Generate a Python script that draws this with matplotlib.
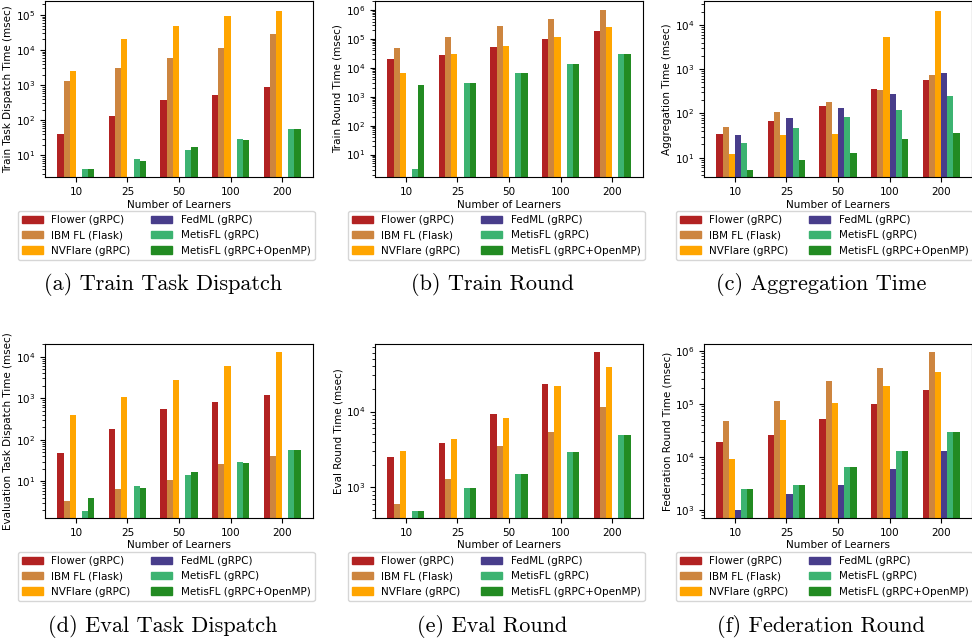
import numpy as np
import matplotlib
matplotlib.use('Agg')
import matplotlib.pyplot as plt
from matplotlib.patches import Patch

learners = ['10', '25', '50', '100', '200']
systems = ['Flower (gRPC)', 'IBM FL (Flask)', 'NVFlare (gRPC)', 'FedML (gRPC)',
           'MetisFL (gRPC)', 'MetisFL (gRPC+OpenMP)']
colors = ['#b22222', '#cd853f', '#ffa500', '#483d8b', '#3cb371', '#228b22']

# one list per system, values in msec; None = not measured
train_dispatch = [
    [40, 130, 370, 520, 880],
    [1300, 3060, 5900, 11400, 28600],
    [2500, 20600, 48500, 93600, 130000],
    [None] * 5,
    [4.0, 7.7, 13.9, 28.6, 55],
    [4.0, 6.7, 17, 27, 55],
]
train_round = [
    [20100, 27600, 52300, 100000, 187000],
    [48300, 116000, 279000, 488000, 1000000],
    [6580, 29900, 56600, 116000, 258000],
    [None] * 5,
    [3.1, 2960, 6580, 13500, 29900],
    [2520, 2960, 6580, 13500, 29900],
]
aggregation = [
    [34.8, 68, 149, 360, 574],
    [50, 109, 183, 342, 745],
    [12.3, 33, 34.8, 5360, 20700],
    [33, 80, 134, 278, 826],
    [21.8, 47.5, 84, 121, 250],
    [5.4, 9.0, 13, 26.8, 36.6],
]
eval_dispatch = [
    [48.8, 184, 555, 817, 1200],
    [3.4, 6.7, 11, 26.5, 41],
    [398, 1076, 2750, 5970, 12900],
    [None] * 5,
    [1.98, 7.9, 14.5, 29.6, 57.5],
    [4.06, 7.0, 17, 28, 57.5],
]
eval_round = [
    [2530, 3870, 9310, 23100, 61000],
    [609, 1300, 3530, 5400, 11500],
    [3040, 4370, 8260, 21800, 38700],
    [None] * 5,
    [493, 990, 1510, 2950, 4930],
    [493, 990, 1510, 2950, 4930],
]
federation_round = [
    [19200, 26000, 52100, 100000, 184000],
    [47800, 114000, 272000, 477000, 957000],
    [9160, 49900, 104000, 219000, 402000],
    [1000, 2000, 2960, 5940, 13000],
    [2490, 2960, 6470, 13000, 29600],
    [2490, 2960, 6470, 13000, 29600],
]

panels = [
    (train_dispatch, 'Train Task Dispatch Time (msec)', '(a) Train Task Dispatch', (2.4, 2.5e5)),
    (train_round, 'Train Round Time (msec)', '(b) Train Round', (1.68, 2.05e6)),
    (aggregation, 'Aggregation Time (msec)', '(c) Aggregation Time', (3.66, 3.47e4)),
    (eval_dispatch, 'Evaluation Task Dispatch Time (msec)', '(d) Eval Task Dispatch', (1.32, 2.01e4)),
    (eval_round, 'Eval Round Time (msec)', '(e) Eval Round', (395, 7.77e4)),
    (federation_round, 'Federation Round Time (msec)', '(f) Federation Round', (697, 1.35e6)),
]

W, H = 972, 642
fs = 7.5
fig = plt.figure(figsize=(W / 100, H / 100), dpi=100)

ax_left = [45, 375, 704]
leg_left = [18, 348, 676]
cap_x = [163, 492, 821]
rows = [
    # axes top, axes bottom, legend top, caption center (pixels from top)
    (1, 177, 211, 285),
    (344, 518, 552, 626),
]

width = 0.12
x = np.arange(len(learners))

for i, (data, ylabel, caption, ylim) in enumerate(panels):
    r, c = divmod(i, 3)
    top, bottom, leg_top, cap_y = rows[r]
    ax = fig.add_axes([ax_left[c] / W, 1 - bottom / H, 268 / W, (bottom - top) / H])
    ax.set_yscale('log')
    for k, vals in enumerate(data):
        xs = [x[j] + (k - 2.5) * width for j, v in enumerate(vals) if v is not None]
        ys = [v for v in vals if v is not None]
        if ys:
            ax.bar(xs, ys, width, color=colors[k])
    ax.set_xticks(x)
    ax.set_xticklabels(learners)
    ax.set_xlim(-0.6, 4.6)
    ax.set_ylim(*ylim)
    ax.tick_params(labelsize=fs)
    ax.set_xlabel('Number of Learners', fontsize=fs, labelpad=2)
    ax.set_ylabel(ylabel, fontsize=fs, labelpad=2)

    handles = [Patch(color=colors[k], label=systems[k]) for k in range(6)]
    ax.legend(handles=handles, ncol=2, fontsize=fs, loc='upper left',
              bbox_to_anchor=(leg_left[c] / W, 1 - leg_top / H),
              bbox_transform=fig.transFigure, borderaxespad=0)

    fig.text(cap_x[c] / W, 1 - cap_y / H, caption, ha='center', va='center',
             fontsize=16, family='cmr10')

plt.savefig('out.png', dpi=100)
